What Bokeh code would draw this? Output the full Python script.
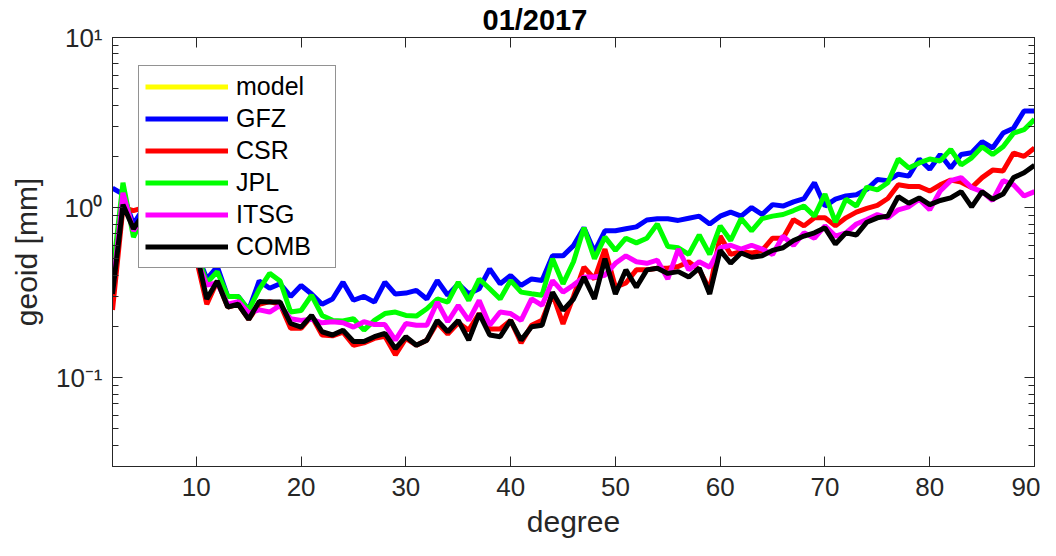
from bokeh.plotting import figure
from bokeh.models import (LogAxis, LinearAxis, FixedTicker, Legend, LegendItem,
                          Range1d, CustomJSTickFormatter)
from bokeh.embed import file_html
from bokeh.resources import INLINE

# ---------------- data ----------------
degrees = list(range(2, 91))

model = [float("nan")]  # yellow "model" curve is not visible in the reference

gfz = [1.30, 1.20, 0.80, 1.00, 0.85, 0.75, 0.65, 0.55, 0.55, 0.38,
       0.45, 0.30, 0.30, 0.25, 0.37, 0.335, 0.356, 0.30, 0.348, 0.31,
       0.27, 0.29, 0.364, 0.285, 0.30, 0.278, 0.364, 0.31, 0.314, 0.326,
       0.29, 0.372, 0.305, 0.356, 0.311, 0.333, 0.436, 0.356, 0.398, 0.348,
       0.38, 0.372, 0.52, 0.52, 0.597, 0.76, 0.55, 0.73, 0.73, 0.75,
       0.77, 0.845, 0.86, 0.86, 0.84, 0.865, 0.89, 0.80, 0.89, 0.94,
       0.89, 1.00, 0.91, 1.04, 1.02, 1.08, 1.13, 1.40, 1.02, 1.12,
       1.17, 1.19, 1.28, 1.46, 1.44, 1.57, 1.53, 1.93, 1.68, 2.05,
       1.71, 2.05, 2.10, 2.44, 2.24, 2.74, 2.93, 3.70, 3.70]

csr = [0.25, 1.00, 0.96, 1.00, 0.85, 0.70, 0.60, 0.50, 0.50, 0.27,
       0.37, 0.26, 0.27, 0.22, 0.27, 0.28, 0.27, 0.195, 0.195, 0.23,
       0.178, 0.176, 0.185, 0.155, 0.16, 0.17, 0.175, 0.136, 0.17, 0.155,
       0.166, 0.21, 0.18, 0.21, 0.19, 0.238, 0.193, 0.193, 0.217, 0.16,
       0.203, 0.217, 0.31, 0.207, 0.30, 0.446, 0.38, 0.57, 0.34, 0.36,
       0.43, 0.43, 0.44, 0.44, 0.45, 0.48, 0.43, 0.33, 0.68, 0.53,
       0.55, 0.54, 0.56, 0.66, 0.66, 0.85, 0.78, 0.87, 0.87, 0.78,
       0.87, 0.94, 0.99, 1.03, 1.13, 1.36, 1.33, 1.33, 1.25, 1.36,
       1.45, 1.41, 1.31, 1.50, 1.66, 1.64, 2.09, 2.00, 2.24]

jpl = [0.40, 1.40, 0.67, 0.90, 0.80, 0.70, 0.60, 0.50, 0.55, 0.36,
       0.42, 0.30, 0.30, 0.25, 0.33, 0.41, 0.37, 0.243, 0.248, 0.305,
       0.232, 0.217, 0.215, 0.222, 0.19, 0.217, 0.238, 0.243, 0.232, 0.23,
       0.254, 0.29, 0.278, 0.364, 0.284, 0.38, 0.333, 0.29, 0.372, 0.318,
       0.311, 0.305, 0.50, 0.356, 0.48, 0.76, 0.50, 0.67, 0.56, 0.66,
       0.62, 0.66, 0.80, 0.59, 0.58, 0.53, 0.69, 0.53, 0.78, 0.64,
       0.86, 0.73, 0.86, 0.89, 0.91, 0.96, 1.02, 0.89, 1.20, 0.82,
       1.12, 1.02, 1.32, 1.27, 1.40, 1.93, 1.71, 1.83, 1.93, 1.88,
       2.20, 1.78, 1.96, 2.28, 2.05, 2.28, 2.74, 2.87, 3.30]

itsg = [0.32, 1.22, 0.73, 0.90, 0.75, 0.65, 0.55, 0.50, 0.50, 0.35,
        0.36, 0.27, 0.28, 0.24, 0.25, 0.243, 0.266, 0.222, 0.217, 0.22,
        0.21, 0.213, 0.21, 0.198, 0.213, 0.205, 0.205, 0.166, 0.208, 0.203,
        0.203, 0.278, 0.213, 0.266, 0.217, 0.284, 0.203, 0.243, 0.238, 0.217,
        0.29, 0.266, 0.372, 0.318, 0.35, 0.39, 0.39, 0.40, 0.47, 0.52,
        0.48, 0.47, 0.49, 0.38, 0.57, 0.43, 0.48, 0.446, 0.58, 0.60,
        0.57, 0.60, 0.57, 0.53, 0.68, 0.60, 0.71, 0.66, 0.78, 0.68,
        0.71, 0.80, 0.85, 0.91, 0.87, 0.97, 1.01, 1.12, 0.97, 1.25,
        1.44, 1.50, 1.31, 1.24, 1.10, 1.44, 1.36, 1.17, 1.24]

comb = [0.31, 1.04, 0.75, 0.92, 0.75, 0.65, 0.55, 0.45, 0.55, 0.29,
        0.37, 0.26, 0.27, 0.22, 0.28, 0.278, 0.278, 0.208, 0.198, 0.232,
        0.186, 0.178, 0.19, 0.163, 0.163, 0.174, 0.182, 0.148, 0.174, 0.155,
        0.166, 0.217, 0.186, 0.217, 0.166, 0.238, 0.178, 0.174, 0.217, 0.166,
        0.199, 0.203, 0.318, 0.249, 0.29, 0.39, 0.29, 0.50, 0.31, 0.43,
        0.34, 0.43, 0.44, 0.41, 0.42, 0.39, 0.44, 0.31, 0.56, 0.47,
        0.54, 0.51, 0.52, 0.56, 0.58, 0.64, 0.68, 0.71, 0.76, 0.61,
        0.71, 0.69, 0.82, 0.87, 0.89, 1.16, 1.06, 1.14, 1.04, 1.10,
        1.14, 1.24, 1.01, 1.24, 1.12, 1.20, 1.50, 1.60, 1.77]

series_names = ["model", "GFZ", "CSR", "JPL", "ITSG", "COMB"]
series_colors = ["#FFFF00", "#0000FF", "#FF0000", "#00FF00", "#FF00FF", "#000000"]

x_ticks = [10, 20, 30, 40, 50, 60, 70, 80, 90]
y_ticks = [0.1, 1, 10]
y_tick_labels = {0.1: "10\u207B\u00B9", 1: "10\u2070", 10: "10\u00B9"}
y_minor = [0.03, 0.04, 0.05, 0.06, 0.07, 0.08, 0.09,
           0.2, 0.3, 0.4, 0.5, 0.6, 0.7, 0.8, 0.9,
           2, 3, 4, 5, 6, 7, 8, 9]

# ---------------- figure ----------------
FONT = "Liberation Sans"
AX = "#262626"

p = figure(width=1040, height=540, y_axis_type="log",
           x_range=Range1d(2, 90), y_range=Range1d(0.03, 10),
           output_backend="svg", toolbar_location=None,
           min_border_left=112, min_border_right=6,
           min_border_top=37, min_border_bottom=74)
p.background_fill_color = "white"
p.border_fill_color = "white"
p.outline_line_color = AX
p.outline_line_width = 1
p.xgrid.visible = False
p.ygrid.visible = False

p.title.text = "01/2017"
p.title.align = "left"
p.title.offset = 370
p.title.text_font = FONT
p.title.text_font_style = "bold"
p.title.text_font_size = "29px"
p.title.text_color = "black"
p.title.standoff = 3

ys = [model, gfz, csr, jpl, itsg, comb]
renderers = []
for name, col, vals in zip(series_names, series_colors, ys):
    xs = degrees[:len(vals)]
    r = p.line(xs, vals, line_color=col, line_width=5)
    renderers.append(r)

# axes styling
xax = p.xaxis[0]
xax.ticker = FixedTicker(ticks=x_ticks)
yax = p.yaxis[0]
yax.ticker = FixedTicker(ticks=y_ticks, minor_ticks=y_minor)
yax.major_label_overrides = y_tick_labels

for ax in (xax, yax):
    ax.axis_line_color = AX
    ax.major_tick_line_color = AX
    ax.minor_tick_line_color = AX
    ax.major_tick_in = 10
    ax.major_tick_out = 0
    ax.minor_tick_in = 6
    ax.minor_tick_out = 0
    ax.major_label_text_font = FONT
    ax.major_label_text_font_size = "26px"
    ax.major_label_text_color = AX
    ax.axis_label_text_font = FONT
    ax.axis_label_text_font_size = "30px"
    ax.axis_label_text_font_style = "normal"
    ax.axis_label_text_color = AX
xax.minor_tick_line_color = None
xax.axis_label = "degree"
yax.axis_label = "geoid [mm]"
xax.major_label_standoff = 11
yax.major_label_standoff = 10
xax.axis_label_standoff = 6
yax.axis_label_standoff = 10

# mirrored ticks on top and right (box on)
rax = LogAxis(ticker=FixedTicker(ticks=y_ticks, minor_ticks=y_minor),
              formatter=CustomJSTickFormatter(code="return '';"),
              major_label_standoff=0,
              axis_line_color=AX, major_tick_line_color=AX, minor_tick_line_color=AX,
              major_tick_in=10, major_tick_out=0, minor_tick_in=6, minor_tick_out=0)
p.add_layout(rax, "right")
tax = LinearAxis(ticker=FixedTicker(ticks=x_ticks),
                 formatter=CustomJSTickFormatter(code="return '';"),
                 major_label_standoff=0,
                 axis_line_color=AX, major_tick_line_color=AX, minor_tick_line_color=None,
                 major_tick_in=10, major_tick_out=0)
p.add_layout(tax, "above")

legend = Legend(items=[LegendItem(label=n, renderers=[r])
                       for n, r in zip(series_names, renderers)],
                location=(26, 198))
legend.label_text_font = FONT
legend.label_text_font_size = "25px"
legend.label_text_color = "black"
legend.glyph_width = 83
legend.glyph_height = 29
legend.label_height = 29
legend.label_width = 93
legend.label_standoff = 8
legend.spacing = 3
legend.padding = 6
legend.border_line_color = AX
legend.border_line_width = 1
legend.background_fill_color = "white"
legend.background_fill_alpha = 1.0
p.add_layout(legend, "center")

open("out.html", "w").write(file_html(p, INLINE))
